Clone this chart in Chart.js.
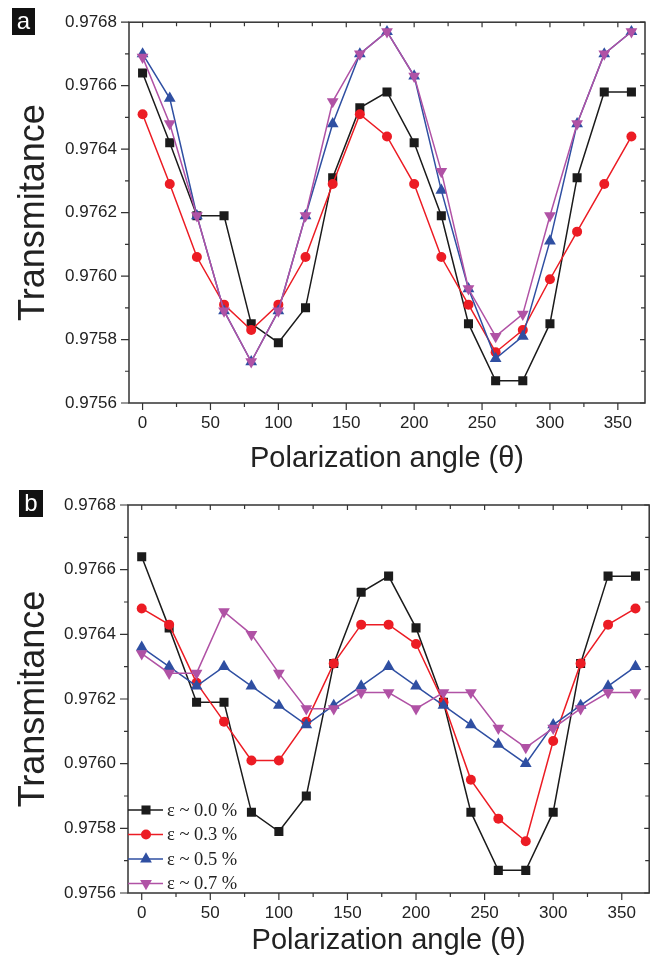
<!DOCTYPE html>
<html>
<head>
<meta charset="utf-8">
<script src="https://cdn.jsdelivr.net/npm/chart.js@4"></script>
<style>
  body { margin: 0; background: #fff; }
  #page { position: relative; width: 656px; height: 964px; }
  .panel { position: absolute; left: 0; width: 656px; height: 482px; }
  .tag {
    position: absolute; background: #111; color: #fff;
    font: 24px 'Liberation Sans', Arial, sans-serif;
    text-align: center; line-height: 26px;
  }
</style>
</head>
<body>
<div id="page">
  <div class="panel" style="top:0"><canvas id="chartA" width="656" height="482"></canvas></div>
  <div class="panel" style="top:482px"><canvas id="chartB" width="656" height="482"></canvas></div>
  <div class="tag" style="left:12px;top:8px;width:23px;height:27px">a</div>
  <div class="tag" style="left:19px;top:490px;width:24px;height:27px">b</div>
</div>
<script>
// Data
const angles = [0, 20, 40, 60, 80, 100, 120, 140, 160, 180, 200, 220, 240, 260, 280, 300, 320, 340, 360];

// panel a
const a00 = [0.97664, 0.97642, 0.97619, 0.97619, 0.97585, 0.97579, 0.97590, 0.97631, 0.97653, 0.97658, 0.97642, 0.97619, 0.97585, 0.97567, 0.97567, 0.97585, 0.97631, 0.97658, 0.97658];
const a03 = [0.97651, 0.97629, 0.97606, 0.97591, 0.97583, 0.97591, 0.97606, 0.97629, 0.97651, 0.97644, 0.97629, 0.97606, 0.97591, 0.97576, 0.97583, 0.97599, 0.97614, 0.97629, 0.97644];
const a05 = [0.97670, 0.97656, 0.97619, 0.97589, 0.97573, 0.97589, 0.97619, 0.97648, 0.97670, 0.97677, 0.97663, 0.97627, 0.97596, 0.97574, 0.97581, 0.97611, 0.97648, 0.97670, 0.97677];
const a07 = [0.97669, 0.97648, 0.97619, 0.97589, 0.97573, 0.97589, 0.97619, 0.97655, 0.97670, 0.97677, 0.97663, 0.97633, 0.97596, 0.97581, 0.97588, 0.97619, 0.97648, 0.97670, 0.97677];

// panel b
const b00 = [0.97664, 0.97642, 0.97619, 0.97619, 0.97585, 0.97579, 0.97590, 0.97631, 0.97653, 0.97658, 0.97642, 0.97619, 0.97585, 0.97567, 0.97567, 0.97585, 0.97631, 0.97658, 0.97658];
const b03 = [0.97648, 0.97643, 0.97625, 0.97613, 0.97601, 0.97601, 0.97613, 0.97631, 0.97643, 0.97643, 0.97637, 0.97619, 0.97595, 0.97583, 0.97576, 0.97607, 0.97631, 0.97643, 0.97648];
const b05 = [0.97636, 0.97630, 0.97624, 0.97630, 0.97624, 0.97618, 0.97612, 0.97618, 0.97624, 0.97630, 0.97624, 0.97618, 0.97612, 0.97606, 0.97600, 0.97612, 0.97618, 0.97624, 0.97630];
const b07 = [0.97634, 0.97628, 0.97628, 0.97647, 0.97640, 0.97628, 0.97617, 0.97617, 0.97622, 0.97622, 0.97617, 0.97622, 0.97622, 0.97611, 0.97605, 0.97611, 0.97617, 0.97622, 0.97622];

const seriesLabels = ['ε ~ 0.0 %', 'ε ~ 0.3 %', 'ε ~ 0.5 %', 'ε ~ 0.7 %'];

// Axis ticks
const xTicks = [0, 50, 100, 150, 200, 250, 300, 350];
const xMinor = [25, 75, 125, 175, 225, 275, 325];
const yTicks = [0.9756, 0.9758, 0.9760, 0.9762, 0.9764, 0.9766, 0.9768];
const yMinor = [0.9757, 0.9759, 0.9761, 0.9763, 0.9765, 0.9767];

// Styles
const colors = ['#1b1b1b', '#ec1c24', '#2f4fa2', '#b052a5'];
const pointStyles = ['rect', 'circle', 'triangle', 'triangle'];
const pointRadii = [6.4, 5, 6.8, 6.8];
const rotations = [0, 0, 0, 180];
const axisColor = '#333';
const sansFont = "'Liberation Sans', Arial, sans-serif";

Chart.defaults.font.family = sansFont;
Chart.defaults.color = '#222';

// frame, inner/outer ticks and optional legend
const framePlugin = {
  id: 'frame',
  afterDraw(chart, args, opts) {
    const { ctx, chartArea: a, scales: { x, y } } = chart;
    ctx.save();
    ctx.strokeStyle = axisColor;
    ctx.lineWidth = 1.5;
    ctx.strokeRect(a.left, a.top, a.right - a.left, a.bottom - a.top);

    ctx.lineWidth = 1.2;
    ctx.beginPath();
    const xMark = (v, outLen, inLen) => {
      const px = x.getPixelForValue(v);
      ctx.moveTo(px, a.bottom); ctx.lineTo(px, a.bottom + outLen);
      ctx.moveTo(px, a.top); ctx.lineTo(px, a.top + inLen);
    };
    const yMark = (v, outLen, inLen) => {
      const py = y.getPixelForValue(v);
      ctx.moveTo(a.left, py); ctx.lineTo(a.left - outLen, py);
      ctx.moveTo(a.right, py); ctx.lineTo(a.right - inLen, py);
    };
    xTicks.forEach(v => xMark(v, 7, 5));
    xMinor.forEach(v => xMark(v, 4, 4));
    yTicks.forEach(v => yMark(v, 8, 5));
    yMinor.forEach(v => yMark(v, 4, 4));
    ctx.stroke();

    if (opts.legend) {
      const x1 = a.left, x2 = a.left + 35, xm = a.left + 18;
      ctx.font = "18.5px 'Liberation Serif', 'Times New Roman', serif";
      ctx.textBaseline = 'middle';
      chart.data.datasets.forEach((ds, i) => {
        const yy = a.bottom - 9.5 - (3 - i) * 24.5;
        ctx.strokeStyle = ds.borderColor;
        ctx.fillStyle = ds.borderColor;
        ctx.lineWidth = 1.5;
        ctx.beginPath();
        ctx.moveTo(x1, yy); ctx.lineTo(x2, yy);
        ctx.stroke();
        Chart.helpers.drawPoint(ctx, {
          pointStyle: ds.pointStyle, radius: ds.pointRadius,
          rotation: ds.pointRotation, borderWidth: 0
        }, xm, yy);
        ctx.fillStyle = '#222';
        ctx.fillText(ds.label, a.left + 39, yy + 1);
      });
    }
    ctx.restore();
  }
};

const makeDatasets = (series) => series.map((vals, i) => ({
  label: seriesLabels[i],
  data: angles.map((a, k) => ({ x: a, y: vals[k] })),
  borderColor: colors[i],
  backgroundColor: colors[i],
  borderWidth: 1.5,
  pointStyle: pointStyles[i],
  pointRadius: pointRadii[i],
  pointRotation: rotations[i],
  pointBorderWidth: 0,
  tension: 0,
  order: 4 - i
}));

const makeChart = (canvasId, series, layout) => new Chart(document.getElementById(canvasId), {
  type: 'line',
  data: { datasets: makeDatasets(series) },
  options: {
    responsive: false,
    animation: false,
    layout: { padding: { top: layout.top, right: layout.right, bottom: 0, left: 0 } },
    plugins: {
      legend: { display: false },
      tooltip: { enabled: false },
      frame: { legend: layout.legend }
    },
    scales: {
      x: {
        type: 'linear',
        min: -10,
        max: 370,
        grid: { display: false, drawTicks: false },
        border: { display: false },
        afterBuildTicks: (scale) => { scale.ticks = xTicks.map(v => ({ value: v })); },
        afterFit: (scale) => { scale.height = layout.xHeight; },
        ticks: { padding: 10, font: { size: 17 }, maxRotation: 0 },
        title: {
          display: true,
          text: 'Polarization angle (θ)',
          font: { size: 29 },
          color: '#222',
          padding: { top: 0, bottom: 6 }
        }
      },
      y: {
        min: 0.9756,
        max: 0.9768,
        grid: { display: false, drawTicks: false },
        border: { display: false },
        afterBuildTicks: (scale) => { scale.ticks = yTicks.map(v => ({ value: v })); },
        afterFit: (scale) => { scale.width = layout.yWidth; },
        ticks: { padding: 12, font: { size: 17 }, callback: (v) => Number(v).toFixed(4) },
        title: {
          display: true,
          text: 'Transmitance',
          font: { size: 36 },
          color: '#222',
          padding: { top: 12, bottom: 0 }
        }
      }
    }
  },
  plugins: [framePlugin]
});

makeChart('chartA', [a00, a03, a05, a07], { top: 21, right: 11, xHeight: 79, yWidth: 129, legend: false });
makeChart('chartB', [b00, b03, b05, b07], { top: 23, right: 3, xHeight: 71, yWidth: 128, legend: true });
</script>
</body>
</html>
